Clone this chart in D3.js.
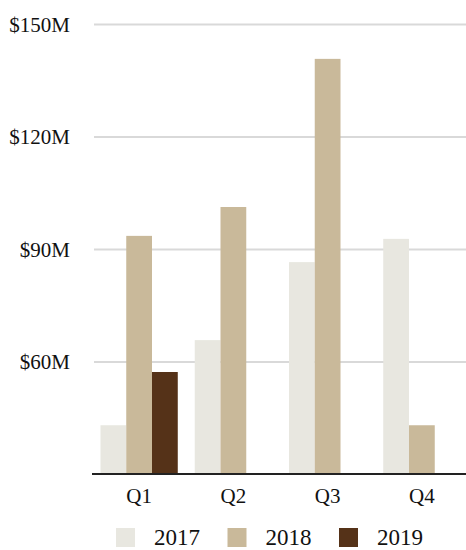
<!DOCTYPE html>
<html>
<head>
<meta charset="utf-8">
<script src="https://cdn.jsdelivr.net/npm/d3@7"></script>
<style>
	body { margin: 0; background: #fff; }
	text { font-family: "Liberation Serif", "Times New Roman", serif; fill: #111; }
</style>
</head>
<body>
<div id="chart"></div>
<script>
let quarters	= ["Q1", "Q2", "Q3", "Q4"];
let years		= ["2017", "2018", "2019"];
let sales2017	= [43, 65.7, 86.5, 92.7];
let sales2018	= [93.5, 101.2, 140.7, 43];
let sales2019	= [57.2, null, null, null];
let yTicks		= [60, 90, 120, 150];
let colors		= ["#e8e7e0", "#c9b99a", "#553218"];

let width	= 466;
let height	= 550;
let series	= [sales2017, sales2018, sales2019];

let svg = d3.select("#chart").append("svg")
	.attr("width", width)
	.attr("height", height);

let x = d3.scaleBand()
	.domain(quarters)
	.range([92, 469])
	.paddingInner(0.18)
	.paddingOuter(0.09);

let xInner = d3.scaleBand()
	.domain(years)
	.range([0, x.bandwidth()]);

let y = d3.scaleLinear()
	.domain([30, 150])
	.range([474, 24]);

// gridlines + labels
let grid = svg.append("g")
	.attr("transform", "translate(94,0)")
	.call(d3.axisLeft(y)
		.tickValues(yTicks)
		.tickSize(-(width - 94))
		.tickFormat((d) => ("$" + d + "M")));

grid.select(".domain").remove();
grid.selectAll(".tick line")
	.attr("stroke", "#d9d9d9")
	.attr("stroke-width", 2);
grid.selectAll(".tick text")
	.attr("x", -24)
	.attr("dy", "0.34em")
	.style("font-size", "21px")
	.style("font-family", "'Liberation Serif', serif")
	.attr("fill", "#111");

let rows = quarters.map((q, i) => ({
	quarter: q,
	values: years.map((yr, j) => ({ year: yr, value: series[j][i], color: colors[j] }))
}));

let group = svg.selectAll(".quarter")
	.data(rows)
	.enter().append("g")
	.attr("class", "quarter")
	.attr("transform", (o) => ("translate(" + x(o.quarter) + ",0)"));

group.selectAll("rect")
	.data((o) => (o.values.filter((v) => (v.value != null))))
	.enter().append("rect")
	.attr("x", (o) => (xInner(o.year)))
	.attr("width", xInner.bandwidth())
	.attr("y", (o) => (y(o.value)))
	.attr("height", (o) => (y(30) - y(o.value)))
	.attr("fill", (o) => (o.color));

// baseline + quarter labels
let xAxis = svg.append("g")
	.attr("transform", "translate(0," + y(30) + ")")
	.call(d3.axisBottom(x).tickSize(0).tickPadding(14));

xAxis.select(".domain")
	.attr("d", "M92,0H" + width)
	.attr("stroke", "#222")
	.attr("stroke-width", 2);
xAxis.selectAll("text")
	.style("font-size", "21px")
	.style("font-family", "'Liberation Serif', serif")
	.attr("fill", "#111");

// legend
let legend = svg.selectAll(".legend")
	.data(years)
	.enter().append("g")
	.attr("class", "legend")
	.attr("transform", (d, i) => ("translate(" + (116 + i * 111.5) + ",528)"));

legend.append("rect")
	.attr("width", 19)
	.attr("height", 19)
	.attr("fill", (d, i) => (colors[i]));

legend.append("text")
	.attr("x", 38)
	.attr("y", 17)
	.style("font-size", "23px")
	.text((d) => (d));
</script>
</body>
</html>
